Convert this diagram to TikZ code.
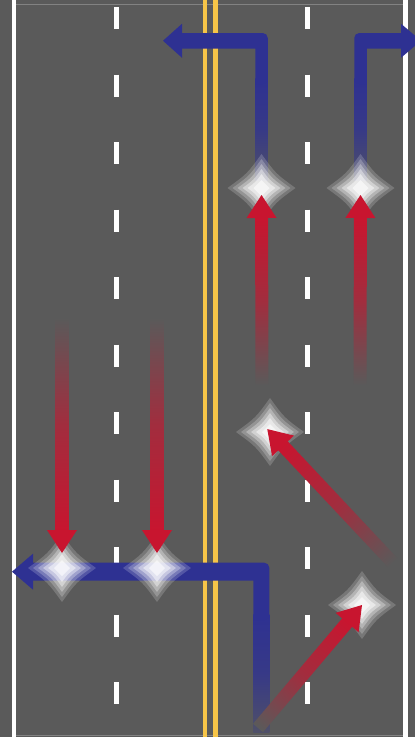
\documentclass[tikz,border=0pt]{standalone}
\usepackage{tikz}
\usetikzlibrary{calc}
\definecolor{RoadGray}{HTML}{5A5A5A}
\definecolor{RoadRim}{HTML}{828282}
\definecolor{LaneGold}{HTML}{F7C548}
\definecolor{TurnBlue}{HTML}{2E3192}
\definecolor{TurnRed}{HTML}{C8152F}
\tikzset{
  edgeline/.style={draw=white, line width=4.5pt},
  rimline/.style={draw=RoadRim, line width=0.8pt},
  laneline/.style={draw=white, line width=5pt, dash pattern=on 22pt off 45.5pt},
  centerline/.style={draw=LaneGold, line width=4.5pt},
  turnbody/.style={fill=TurnBlue},
  turnfade/.style={top color=TurnBlue, bottom color=TurnBlue!25!RoadGray, middle color=TurnBlue!80!RoadGray},
  glowstar/.pic={
    \foreach \gs/\ga in {34/.18,29/.22,24/.3,19/.4,14/.5,8/.6}
      \fill[white, fill opacity=\ga] (0,\gs) .. controls (.42*\gs,.42*\gs) .. (\gs,0)
        .. controls (.42*\gs,-.42*\gs) .. (0,-\gs) .. controls (-.42*\gs,-.42*\gs) .. (-\gs,0)
        .. controls (-.42*\gs,.42*\gs) .. cycle;
  }
}
% red arrow that fades out towards its tail: tail, target, shortening
\newcommand{\fadearrow}[3]{%
  \path (#1); \pgfgetlastxy{\fax}{\fay}
  \path (#2); \pgfgetlastxy{\fbx}{\fby}
  \pgfmathsetmacro{\fang}{atan2(\fby-\fay,\fbx-\fax)}
  \pgfmathsetmacro{\flen}{veclen(\fbx-\fax,\fby-\fay)-#3}
  \pgfmathsetmacro{\fbase}{\flen-23}
  \begin{scope}[transform canvas={shift={(#1)},rotate=\fang}]
    \shade[left color=RoadGray, right color=TurnRed, middle color=TurnRed!65!RoadGray]
      (0pt,-6.5pt) rectangle (\fbase pt+1pt,6.5pt);
    \fill[TurnRed] (\fbase pt,-15pt) -- (\flen pt,0pt) -- (\fbase pt,15pt) -- cycle;
  \end{scope}
}

\begin{document}
\begin{tikzpicture}[x=1pt, y=-1pt]
\useasboundingbox (0,0) rectangle (415,737);
\fill[RoadGray] (0,0) rectangle (415,737);
\draw[rimline] (16,4.5) -- (403,4.5);
\draw[rimline] (16,735) -- (403,735);
\draw[edgeline] (14,0) -- (14,737);
\draw[edgeline] (405.5,0) -- (405.5,737);
\draw[laneline] (116,7) -- (116,737);
\draw[laneline] (307,7) -- (307,737);
\draw[centerline] (205,0) -- (205,737);
\draw[centerline] (215.5,0) -- (215.5,737);

\coordinate (g1) at (62,568);
\coordinate (g2) at (157,568);
\coordinate (g3) at (261.5,188);
\coordinate (g4) at (360.5,188);
\coordinate (g5) at (270,432);
\coordinate (g6) at (362,605);

\coordinate (e3) at (163,40.75);
\coordinate (e4) at (421,40.75);
\coordinate (s0) at (261.3,620);
\coordinate (e0) at (12,571.7);

\coordinate (t1) at (62,318);
\coordinate (t2) at (157,318);
\coordinate (t3) at (262,385);
\coordinate (t4) at (360,385);
\coordinate (t5) at (393,563);
\coordinate (t6) at (258,728);

\shade[turnfade] ($(g3)+(-6.25,-8)$) rectangle ($(g3)+(6.25,-110)$);
\fill[turnbody] ($(g3)+(-6.25,-104)$) |- ($(e3)+(18,7.75)$) -- ($(e3)+(18,-7.75)$)
  [rounded corners=5pt] -| ($(g3)+(6.25,-104)$) [sharp corners] -- cycle;
\fill[turnbody] (e3) -- ++(19,-17) -- ++(0,34) -- cycle;

\shade[turnfade] ($(g4)+(-6.25,-8)$) rectangle ($(g4)+(6.25,-110)$);
\fill[turnbody] ($(g4)+(6.25,-104)$) |- ($(e4)+(-19,7.75)$) -- ($(e4)+(-19,-7.75)$)
  [rounded corners=5pt] -| ($(g4)+(-6.25,-104)$) [sharp corners] -- cycle;
\fill[turnbody] (e4) -- ++(-20,-17) -- ++(0,34) -- cycle;

\shade[turnfade] ($(s0)+(-8,-6)$) rectangle ($(s0)+(8,112)$);
\fill[turnbody] ($(s0)+(-8,0)$) |- ($(e0)+(20,9)$) -- ($(e0)+(20,-9)$)
  [rounded corners=5pt] -| ($(s0)+(8,0)$) [sharp corners] -- cycle;
\fill[turnbody] (e0) -- ++(21,-18) -- ++(0,36) -- cycle;

\foreach \g in {g1,g2,g3,g4,g5,g6}
  \pic at (\g) {glowstar};

\fadearrow{t1}{g1}{15}
\fadearrow{t2}{g2}{15}
\fadearrow{t3}{g3}{7}
\fadearrow{t4}{g4}{7}
\fadearrow{t5}{g5}{-4}
\fadearrow{t6}{g6}{0}
\end{tikzpicture}
\end{document}
